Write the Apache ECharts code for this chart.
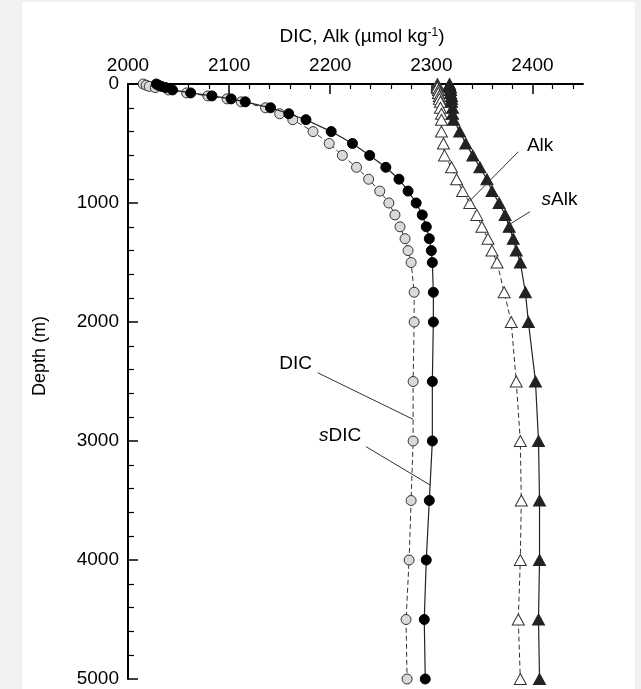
<!DOCTYPE html>
<html><head><meta charset="utf-8">
<script src="https://cdn.jsdelivr.net/npm/echarts@6/dist/echarts.min.js"></script>
<style>
html,body{margin:0;padding:0;background:#f1f1f1;width:641px;height:689px;overflow:hidden;}
#chart{position:absolute;left:22px;top:2px;width:613px;height:687px;background:#fff;}
</style></head><body><div id="chart"></div>
<script>
// ---- data ----
const depths = [0,10,20,30,50,75,100,125,150,200,250,300,400,500,600,700,800,900,1000,1100,1200,1300,1400,1500,1750,2000,2500,3000,3500,4000,4500,5000];
const dic  = [2015,2018,2021,2027,2040,2058,2079,2098,2112,2136,2150,2163,2183,2199,2212,2226,2238,2249,2258,2264,2269,2274,2277,2280,2283,2283,2282,2282,2280,2278,2275,2276];
const sdic = [2028,2030,2033,2037,2044,2062,2083,2102,2116,2141,2159,2176,2201,2222,2239,2255,2268,2277,2285,2291,2295,2298,2300,2301,2302,2302,2301,2301,2298,2295,2293,2294];
const alk  = [2306,2306,2306,2306,2307,2307,2308,2308,2309,2309,2310,2310,2310,2312,2313,2320,2325,2331,2338,2345,2350,2356,2360,2365,2372,2379,2384,2388,2389,2388,2386,2388];
const salk = [2318,2318,2318,2319,2319,2319,2320,2320,2320,2321,2321,2322,2328,2334,2341,2348,2355,2360,2367,2373,2377,2381,2384,2388,2393,2396,2403,2406,2407,2407,2406,2407];
const xTickLabels = [2000,2100,2200,2300,2400];
const yTickLabels = [0,1000,2000,3000,4000,5000];

const FONT = '"Liberation Sans", Arial, Helvetica, sans-serif';
const xMinor = [];
for (let v = 2020; v < 2450; v += 20) if (v % 100 !== 0) xMinor.push(v);

function pairs(vals){ return depths.map((d,i)=>[vals[i], d]); }
function interp(vals, depth){
  for (let i=1;i<depths.length;i++){
    if (depth <= depths[i]){
      const t = (depth - depths[i-1])/(depths[i]-depths[i-1]);
      return vals[i-1] + t*(vals[i]-vals[i-1]);
    }
  }
  return vals[vals.length-1];
}

// annotation labels with leader lines (text anchor, leader start, depth where leader meets curve)
const annotations = [
  {name:'DIC',  vals:dic,  text:'DIC',         textAt:[2149.5,2347], from:[2187.5,2426], toDepth:2818},
  {name:'sDIC', vals:sdic, text:'{i|s}DIC',    textAt:[2189,2958],   from:[2235.5,3048], toDepth:3370},
  {name:'Alk',  vals:alk,  text:'Alk',         textAt:[2394.5,521],  from:[2386,569],    toDepth:989},
  {name:'sAlk', vals:salk, text:'{i|s}Alk',    textAt:[2409,975],    from:[2397.5,1073], toDepth:1185}
];
function leader(name){
  const a = annotations.find(o=>o.name===name);
  return {
    silent:true, symbol:['none','none'], animation:false,
    label:{show:false},
    lineStyle:{color:'#333', width:1, type:'solid'},
    data:[[{coord:a.from},{coord:[interp(a.vals,a.toDepth), a.toDepth]}]]
  };
}

const chart = echarts.init(document.getElementById('chart'));
const option = {
  animation:false,
  backgroundColor:'#fff',
  textStyle:{fontFamily:FONT},
  grid:{left:106, top:82, right:52, bottom:10, containLabel:false},
  xAxis:[
    {type:'value', position:'top', min:2000, max:2450,
     axisLine:{show:true, lineStyle:{color:'#000', width:2}},
     axisTick:{show:true, inside:true, length:10, customValues:xTickLabels, lineStyle:{color:'#000', width:1.5}},
     axisLabel:{show:true, customValues:xTickLabels, margin:9, fontSize:19, color:'#000', fontFamily:FONT,
       formatter:(v)=>String(v)},
     splitLine:{show:false}},
    {type:'value', position:'top', min:2000, max:2450,
     axisLine:{show:false},
     axisTick:{show:true, inside:true, length:5, customValues:xMinor, lineStyle:{color:'#000', width:1.2}},
     axisLabel:{show:false}, splitLine:{show:false}}
  ],
  yAxis:{type:'value', inverse:true, min:0, max:5000, interval:1000,
     axisLine:{show:true, lineStyle:{color:'#000', width:2}},
     axisTick:{show:true, inside:true, length:10, lineStyle:{color:'#000', width:1.5}},
     minorTick:{show:true, splitNumber:5, length:6, lineStyle:{color:'#000', width:1.2}},
     axisLabel:{margin:9, fontSize:19, color:'#000', fontFamily:FONT,
       formatter:(v)=> yTickLabels.indexOf(v) >= 0 ? String(v) : ''},
     splitLine:{show:false}},
  series:[
    {name:'DIC', type:'line', data:pairs(dic), symbol:'circle', symbolSize:10, z:2,
     itemStyle:{color:'#d9d9d9', borderColor:'#333', borderWidth:1},
     lineStyle:{color:'#333', width:1, type:[5,3]}, markLine:leader('DIC')},
    {name:'Alk', type:'line', data:pairs(alk), symbol:'triangle', symbolSize:[12,11], z:2,
     itemStyle:{color:'#fff', borderColor:'#333', borderWidth:1},
     lineStyle:{color:'#333', width:1, type:[5,3]}, markLine:leader('Alk')},
    {name:'sDIC', type:'line', data:pairs(sdic), symbol:'circle', symbolSize:10, z:3,
     itemStyle:{color:'#000', borderColor:'#000', borderWidth:1},
     lineStyle:{color:'#222', width:1.2}, markLine:leader('sDIC')},
    {name:'sAlk', type:'line', data:pairs(salk), symbol:'triangle', symbolSize:[12,11], z:3,
     itemStyle:{color:'#222', borderColor:'#222', borderWidth:1},
     lineStyle:{color:'#222', width:1.2}, markLine:leader('sAlk')}
  ]
};
chart.setOption(option);

// title, y-axis name and annotation texts
const graphics = [
  {type:'text', x:340, y:35,
   style:{text:'DIC, Alk (µmol kg{sup|-1})', fill:'#000', font:'19px '+FONT, textAlign:'center', textVerticalAlign:'middle',
     rich:{sup:{fontSize:12, verticalAlign:'top', padding:[0,0,9,0], fontFamily:FONT}}}},
  {type:'text', x:18, y:354, rotation:Math.PI/2,
   style:{text:'Depth (m)', fill:'#000', font:'18px '+FONT, textAlign:'center', textVerticalAlign:'middle'}}
];
annotations.forEach(a=>{
  const p = chart.convertToPixel({gridIndex:0}, a.textAt);
  graphics.push({type:'text', x:p[0], y:p[1],
    style:{text:a.text, fill:'#000', font:'19px '+FONT, textAlign:'left', textVerticalAlign:'middle',
      rich:{i:{fontStyle:'italic', fontSize:19, fontFamily:FONT}}}});
});
chart.setOption({graphic:graphics});
</script></body></html>
